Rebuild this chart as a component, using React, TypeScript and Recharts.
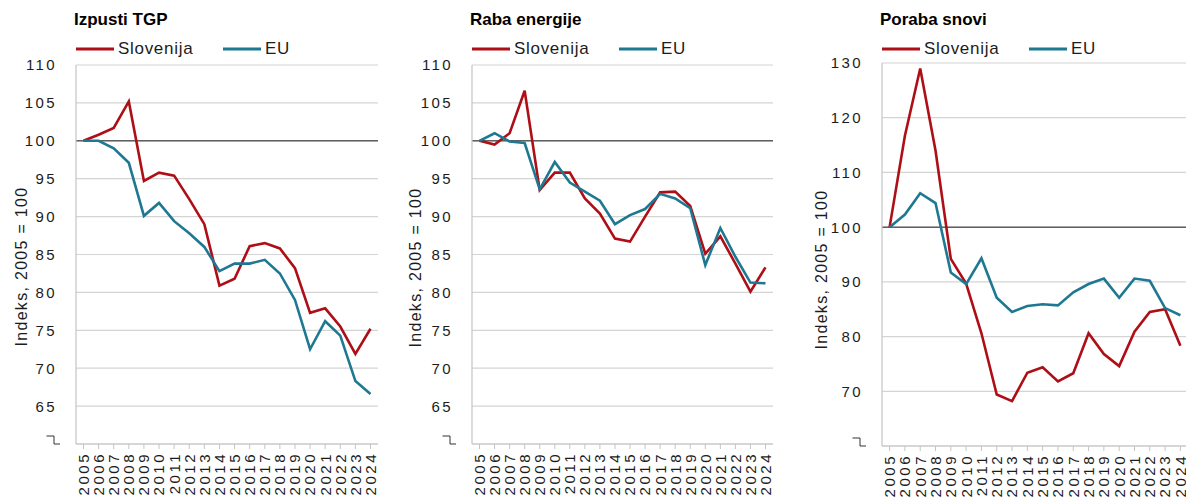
import React from 'react';
import { LineChart, Line, XAxis, YAxis, CartesianGrid, ReferenceLine, Legend } from 'recharts';

// years on the category axis
const years = ['2005', '2006', '2007', '2008', '2009', '2010', '2011', '2012', '2013', '2014',
  '2015', '2016', '2017', '2018', '2019', '2020', '2021', '2022', '2023', '2024'];

// Izpusti TGP
const ghgSlo = [100, 100.8, 101.7, 105.2, 94.7, 95.8, 95.4, 92.3, 89.0, 80.9, 81.8, 86.1, 86.5, 85.8, 83.2, 77.3, 77.9, 75.5, 71.9, 75.2];
const ghgEu = [100, 100.0, 99.0, 97.1, 90.1, 91.8, 89.4, 87.8, 86.0, 82.8, 83.8, 83.8, 84.3, 82.5, 79.0, 72.5, 76.2, 74.3, 68.3, 66.6];

// Raba energije
const energySlo = [100, 99.5, 101.0, 106.6, 93.5, 95.8, 95.8, 92.4, 90.4, 87.1, 86.7, 90.0, 93.2, 93.3, 91.4, 85.1, 87.4, 83.8, 80.1, 83.3];
const energyEu = [100, 101.0, 99.9, 99.7, 93.6, 97.2, 94.5, 93.3, 92.1, 89.0, 90.2, 91.0, 93.0, 92.4, 91.1, 83.6, 88.5, 84.7, 81.3, 81.2];

// Poraba snovi
const materialSlo = [100, 116.7, 129.0, 114.0, 94.2, 89.7, 80.6, 69.4, 68.2, 73.4, 74.4, 71.8, 73.3, 80.6, 76.8, 74.6, 80.9, 84.5, 85.0, 78.3];
const materialEu = [100, 102.3, 106.2, 104.4, 91.7, 89.6, 94.3, 87.1, 84.5, 85.6, 85.9, 85.7, 88.1, 89.6, 90.6, 87.1, 90.6, 90.2, 85.2, 83.9];

const ticksLow = [60, 65, 70, 75, 80, 85, 90, 95, 100, 105, 110];
const ticksHigh = [60, 70, 80, 90, 100, 110, 120, 130];

const seriesNames = ['Slovenija', 'EU'];

const RED = '#ae0f16';
const TEAL = '#1f7892';
const GRID = '#d4d4d4';
const BORDER = '#c4c4c4';
const FONT = '"Liberation Sans", Arial, sans-serif';
const TEXT = '#1c1c1c';

const build = (slo: number[], eu: number[]) => years.map((y, i) => ({ year: y, slo: slo[i], eu: eu[i] }));

const XTick = (props: any) => {
  const { x, y, payload } = props;
  return (
    <text x={x} y={y} dy="0.36em" textAnchor="end" transform={`rotate(-90 ${x} ${y})`}
      fontSize={15} letterSpacing={2.5} fill={TEXT} fontFamily={FONT}>
      {payload.value}
    </text>
  );
};

const makeYTick = (breakAt: number) => (props: any) => {
  const { y, payload } = props;
  if (payload.value === breakAt) {
    return <path d={`M46.5,${y - 8}H54V${y}H60`} fill="none" stroke="#333" strokeWidth={1} />;
  }
  return (
    <text x={57} y={y} dy="0.36em" textAnchor="end" fontSize={15} letterSpacing={2.4}
      fill={TEXT} fontFamily={FONT}>
      {payload.value}
    </text>
  );
};

const makeYLabel = (cx: number, shift: number) => (props: any) => {
  const { viewBox } = props;
  const cy = viewBox.y + viewBox.height / 2 + shift;
  return (
    <text x={cx} y={cy} dy="0.36em" textAnchor="middle" transform={`rotate(-90 ${cx} ${cy})`}
      fontSize={16} letterSpacing={1.3} fill={TEXT} fontFamily={FONT}>
      Indeks, 2005 = 100
    </text>
  );
};

const LegendRow = (props: any) => {
  const items = [...(props.payload || [])].sort(
    (a: any, b: any) => seriesNames.indexOf(a.value) - seriesNames.indexOf(b.value));
  return (
    <div style={{ display: 'flex', alignItems: 'center', height: 20 }}>
      {items.map((p: any) => (
        <div key={p.value} style={{ width: 147, display: 'flex', alignItems: 'center' }}>
          <svg width={38} height={4}>
            <line x1={0} y1={2} x2={38} y2={2} stroke={p.color} strokeWidth={3} />
          </svg>
          <span style={{ marginLeft: 4, fontSize: 17, letterSpacing: 0.7, color: TEXT, fontFamily: FONT }}>
            {p.value}
          </span>
        </div>
      ))}
    </div>
  );
};

type PanelProps = {
  left: number;
  width: number;
  title: string;
  slo: number[];
  eu: number[];
  domain: [number, number];
  ticks: number[];
  top: number;
  axisHeight: number;
  marginRight: number;
  labelX: number;
  labelShift: number;
  pad: number;
};

const Panel = (p: PanelProps) => {
  const data = build(p.slo, p.eu);
  return (
    <div style={{ position: 'absolute', left: p.left, top: 0, width: p.width, height: 497 }}>
      <div style={{ position: 'absolute', left: 74, top: 10, fontSize: 17, fontWeight: 700,
        fontFamily: FONT, color: '#000', whiteSpace: 'nowrap', lineHeight: '20px' }}>
        {p.title}
      </div>
      <LineChart width={p.width} height={497} data={data}
        margin={{ top: p.top, right: p.marginRight, bottom: 0, left: 0 }}>
        <CartesianGrid vertical={false} stroke={GRID} strokeWidth={1.2} />
        <XAxis dataKey="year" interval={0} height={p.axisHeight} tickSize={5} tickMargin={3}
          padding={{ left: p.pad, right: p.pad }}
          axisLine={{ stroke: BORDER, strokeWidth: 1.2 }} tickLine={{ stroke: BORDER }} tick={<XTick />} />
        <YAxis width={76} domain={p.domain} ticks={p.ticks} interval={0} allowDataOverflow
          axisLine={{ stroke: BORDER, strokeWidth: 1.2 }} tickLine={false} tick={makeYTick(p.domain[0])}
          label={{ value: 'Indeks, 2005 = 100', content: makeYLabel(p.labelX, p.labelShift) }} />
        <YAxis yAxisId="r" orientation="right" width={0} domain={p.domain} ticks={p.ticks}
          axisLine={{ stroke: BORDER, strokeWidth: 1.2 }} tickLine={false} tick={false} />
        <ReferenceLine y={100} stroke="#606060" strokeWidth={1.5} />
        <Legend layout="horizontal" verticalAlign="middle" align="center" content={<LegendRow />}
          wrapperStyle={{ top: 39, left: 76, width: 320 }} />
        <Line type="linear" dataKey="slo" name="Slovenija" stroke={RED} strokeWidth={2.6}
          dot={false} isAnimationActive={false} />
        <Line type="linear" dataKey="eu" name="EU" stroke={TEAL} strokeWidth={2.6}
          dot={false} isAnimationActive={false} />
      </LineChart>
    </div>
  );
};

export default function App() {
  return (
    <div style={{ position: 'absolute', left: 0, top: 0, width: 1186, height: 497, overflow: 'hidden', background: '#fff' }}>
      <Panel left={0} width={396} title="Izpusti TGP" slo={ghgSlo} eu={ghgEu} domain={[60, 110]}
        ticks={ticksLow} top={65} axisHeight={53} marginRight={18} labelX={21} labelShift={12} pad={7.5} />
      <Panel left={396} width={396} title="Raba energije" slo={energySlo} eu={energyEu} domain={[60, 110]}
        ticks={ticksLow} top={65} axisHeight={53} marginRight={19} labelX={19} labelShift={13} pad={7.5} />
      <Panel left={806} width={390} title="Poraba snovi" slo={materialSlo} eu={materialEu} domain={[60, 130]}
        ticks={ticksHigh} top={63} axisHeight={51} marginRight={8} labelX={15} labelShift={15} pad={7.6} />
    </div>
  );
}
